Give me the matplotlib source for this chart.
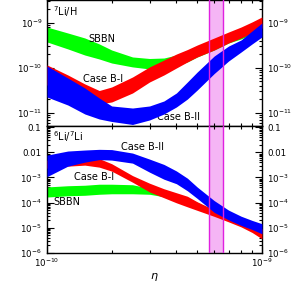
import numpy as np
import matplotlib
matplotlib.use("Agg")
import matplotlib.pyplot as plt
from matplotlib.ticker import LogLocator, NullFormatter, FixedLocator

# eta grid (units of 1e-10)
eta = np.array([1, 1.25, 1.5, 1.75, 2, 2.5, 3, 3.5, 4, 4.5, 5, 6, 7, 8, 9, 10]) * 1e-10

# --- 7Li/H ---
li7_sbbn_hi = [8.0e-10, 5.90e-10, 4.57e-10, 3.37e-10, 2.47e-10, 1.73e-10, 1.60e-10, 1.64e-10, 1.91e-10, 2.41e-10, 3.03e-10, 4.13e-10, 5.61e-10, 6.89e-10, 8.89e-10, 1.15e-9]
li7_sbbn_lo = [3.73e-10, 2.61e-10, 1.91e-10, 1.56e-10, 1.27e-10, 1.04e-10, 9.36e-11, 9.84e-11, 1.10e-10, 1.34e-10, 1.73e-10, 2.47e-10, 3.54e-10, 4.35e-10, 5.61e-10, 7.63e-10]
li7_b1_hi = [1.15e-10, 6.89e-11, 4.35e-11, 3.11e-11, 3.73e-11, 6.21e-11, 1.04e-10, 1.48e-10, 2.01e-10, 2.53e-10, 3.19e-10, 4.57e-10, 6.21e-10, 8.02e-10, 1.04e-9, 1.34e-9]
li7_b1_lo = [4.13e-11, 2.88e-11, 2.23e-11, 1.56e-11, 1.73e-11, 2.74e-11, 4.81e-11, 6.89e-11, 9.84e-11, 1.34e-10, 1.73e-10, 2.47e-10, 3.54e-10, 4.57e-10, 5.90e-10, 7.63e-10]
li7_b2_hi = [1.09e-10, 5.90e-11, 3.54e-11, 2.12e-11, 1.41e-11, 1.27e-11, 1.41e-11, 1.82e-11, 2.74e-11, 4.81e-11, 8.02e-11, 1.82e-10, 3.03e-10, 4.13e-10, 6.55e-10, 9.84e-10]
li7_b2_lo = [2.23e-11, 1.48e-11, 9.35e-12, 7.24e-12, 6.37e-12, 5.47e-12, 6.89e-12, 9.35e-12, 1.34e-11, 2.01e-11, 3.19e-11, 7.43e-11, 1.41e-10, 2.23e-10, 3.37e-10, 4.81e-10]

# --- 6Li/7Li ---
r_sbbn_hi = [4.21e-4, 4.70e-4, 4.92e-4, 5.40e-4, 5.40e-4, 5.15e-4, 3.73e-4, 2.96e-4, 2.15e-4, 1.49e-4, 1.03e-4, 4.92e-5, 2.58e-5, 1.79e-5, 1.24e-5, 8.55e-6]
r_sbbn_lo = [1.67e-4, 1.87e-4, 1.96e-4, 2.15e-4, 2.25e-4, 2.25e-4, 2.15e-4, 1.71e-4, 1.13e-4, 7.45e-5, 5.40e-5, 3.10e-5, 1.87e-5, 1.24e-5, 7.45e-6, 4.49e-6]
r_b1_hi = [4.92e-3, 4.92e-3, 5.40e-3, 5.65e-3, 3.53e-3, 1.19e-3, 5.92e-4, 3.56e-4, 2.47e-4, 1.79e-4, 1.08e-4, 5.15e-5, 2.70e-5, 1.87e-5, 1.29e-5, 9.12e-6]
r_b1_lo = [2.36e-3, 2.83e-3, 3.10e-3, 2.58e-3, 1.79e-3, 6.49e-4, 2.65e-4, 1.56e-4, 9.82e-5, 6.79e-5, 4.92e-5, 2.83e-5, 1.71e-5, 1.08e-5, 6.49e-6, 3.63e-6]
r_b2_hi = [7.80e-3, 1.13e-2, 1.24e-2, 1.32e-2, 1.29e-2, 9.38e-3, 5.40e-3, 3.31e-3, 1.82e-3, 9.38e-4, 4.17e-4, 1.20e-4, 5.01e-5, 2.88e-5, 1.96e-5, 1.45e-5]
r_b2_lo = [1.08e-3, 2.83e-3, 4.09e-3, 5.15e-3, 4.92e-3, 3.73e-3, 1.63e-3, 8.55e-4, 5.65e-4, 2.96e-4, 1.47e-4, 4.09e-5, 2.05e-5, 1.24e-5, 8.55e-6, 5.75e-6]

eta_band = (5.7e-10, 6.6e-10)

GREEN, RED, BLUE = "#00ff00", "#ff0000", "#0000ff"
FS = 7

fig = plt.figure(figsize=(2.92, 2.91), dpi=100)
ax1 = fig.add_axes([0.161, 0.567, 0.736, 0.433])
ax2 = fig.add_axes([0.161, 0.131, 0.736, 0.436])

for ax in (ax1, ax2):
    ax.set_xscale("log")
    ax.set_yscale("log")
    ax.set_xlim(1e-10, 1e-9)
    ax.axvspan(*eta_band, facecolor="#f5b5f5", edgecolor="none", zorder=0)
    for v in eta_band:
        ax.axvline(v, color="#e020e0", lw=1.0, zorder=5)
    ax.tick_params(which="both", direction="in", top=True, right=True,
                   labelright=True, labelsize=6.2, width=0.8)
    ax.tick_params(which="major", length=5, pad=4)
    ax.tick_params(which="minor", length=2.5)
    ax.tick_params(axis="x", pad=3)
    ax.xaxis.set_major_locator(FixedLocator([1e-10, 1e-9]))
    ax.xaxis.set_minor_locator(LogLocator(base=10, subs=np.arange(2, 10)))
    ax.xaxis.set_minor_formatter(NullFormatter())
    ax.yaxis.set_minor_locator(LogLocator(base=10, subs=np.arange(2, 10), numticks=20))
    ax.yaxis.set_minor_formatter(NullFormatter())
    for s in ax.spines.values():
        s.set_linewidth(1.0)

# top panel
ax1.fill_between(eta, li7_sbbn_lo, li7_sbbn_hi, color=GREEN, lw=0, zorder=2)
ax1.fill_between(eta, li7_b1_lo, li7_b1_hi, color=RED, lw=0, zorder=3)
ax1.fill_between(eta, li7_b2_lo, li7_b2_hi, color=BLUE, lw=0, zorder=4)
ax1.set_ylim(5.06e-12, 3.19e-9)
ax1.yaxis.set_major_locator(FixedLocator([1e-11, 1e-10, 1e-9]))
ax1.tick_params(axis="x", labelbottom=False)
ax1.tick_params(axis="y", which="major", pad=3.5)
ax1.text(0.028, 0.91, r"$^7$Li/H", transform=ax1.transAxes, fontsize=FS, va="center")
ax1.text(1.8e-10, 4.27e-10, "SBBN", fontsize=FS, ha="center", va="center")
ax1.text(1.83e-10, 5.6e-11, "Case B-I", fontsize=FS, ha="center", va="center")
ax1.text(4.11e-10, 8.1e-12, "Case B-II", fontsize=FS, ha="center", va="center")

# bottom panel
ax2.fill_between(eta, r_sbbn_lo, r_sbbn_hi, color=GREEN, lw=0, zorder=2)
ax2.fill_between(eta, r_b1_lo, r_b1_hi, color=RED, lw=0, zorder=3)
ax2.fill_between(eta, r_b2_lo, r_b2_hi, color=BLUE, lw=0, zorder=4)
ax2.set_ylim(1e-6, 0.112)
ax2.yaxis.set_major_locator(FixedLocator([1e-6, 1e-5, 1e-4, 1e-3, 1e-2, 1e-1]))
ax2.set_yticklabels([r"$10^{-6}$", r"$10^{-5}$", r"$10^{-4}$", r"$10^{-3}$", "0.01", "0.1"])
ax2.text(0.028, 0.915, r"$^6$Li/$^7$Li", transform=ax2.transAxes, fontsize=FS, va="center")
ax2.text(2.78e-10, 1.67e-2, "Case B-II", fontsize=FS, ha="center", va="center")
ax2.text(1.65e-10, 1.06e-3, "Case B-I", fontsize=FS, ha="center", va="center")
ax2.text(1.07e-10, 1.06e-4, "SBBN", fontsize=FS, ha="left", va="center")
ax2.set_xlabel(r"$\eta$", fontsize=8, labelpad=1)

fig.savefig("out.png", dpi=100)
